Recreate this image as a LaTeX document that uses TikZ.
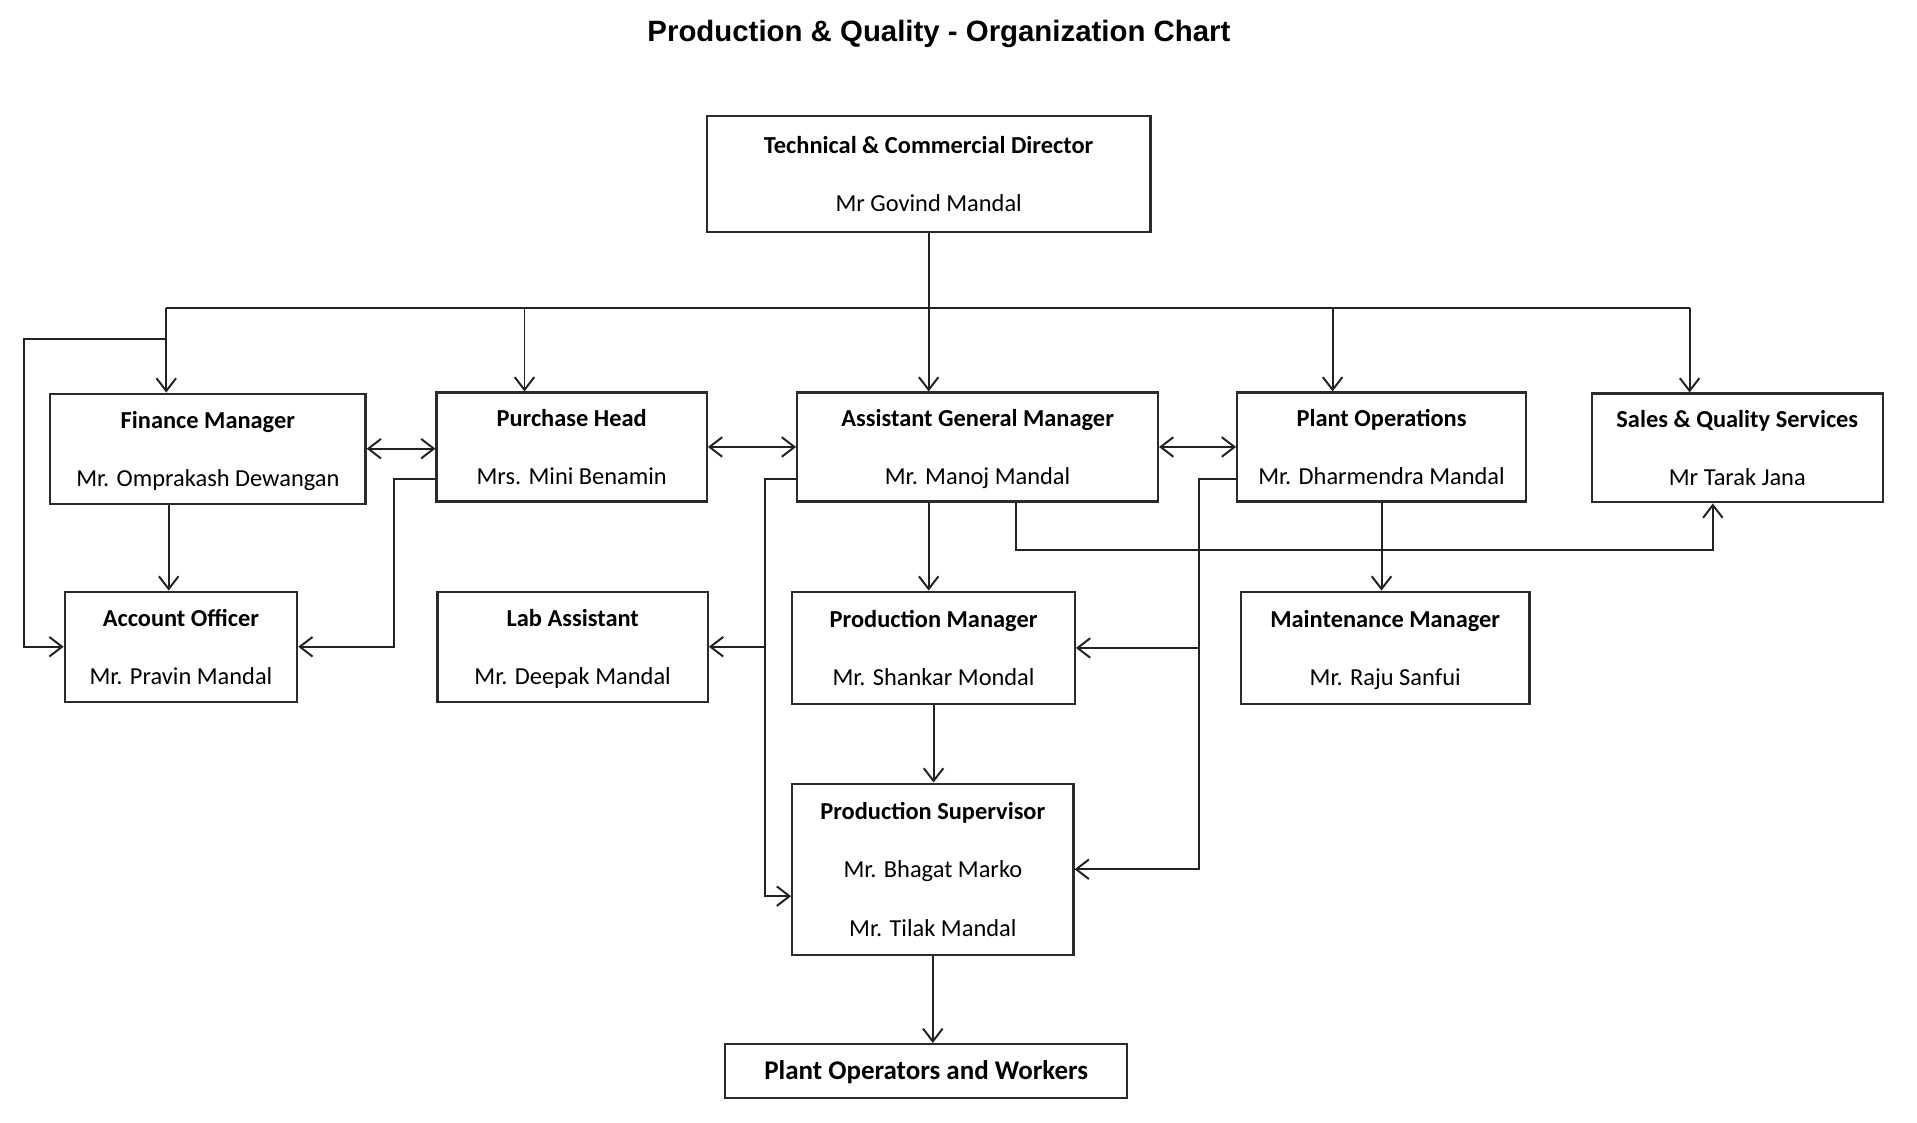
\documentclass[tikz,border=0pt]{standalone}
\usepackage{fontspec}
\setmainfont{Carlito}
\newfontfamily\headfont{Liberation Sans}
\usetikzlibrary{arrows.meta,calc}
\definecolor{boxline}{HTML}{2B2B2B}
\definecolor{linkline}{HTML}{222222}
\newcommand{\tops}{\rule{0pt}{14pt}}
\newcommand{\bots}{\rule[-4pt]{0pt}{4pt}}
\newcommand{\post}[2]{\tops\textbf{#1}\\#2\bots}

\begin{document}
\begin{tikzpicture}[>={Straight Barb[length=2.6mm,width=4mm]},
    card/.style={draw=boxline,line width=1.3pt,rectangle,inner sep=0pt,align=center,
                 font=\fontsize{14.2}{34}\selectfont},
    link/.style={draw=linkline,line width=1.15pt}]
  \useasboundingbox (0,0) rectangle (39.2,-22.95);
  \node[font=\headfont\bfseries\fontsize{17.1}{20}\selectfont] (title) at (19.2,-0.7)
    {Production \& Quality - Organization Chart};

  % boxes
  \node[card,minimum width=9.075cm,minimum height=2.375cm] (tcd) at (18.99,-3.56)
    {\post{Technical \& Commercial Director}{Mr Govind Mandal}};
  \node[card,minimum width=6.45cm,minimum height=2.25cm] (fin) at (4.25,-9.175)
    {\post{Finance Manager}{Mr. Omprakash Dewangan}};
  \node[card,minimum width=5.525cm,minimum height=2.225cm] (pur) at (11.69,-9.14)
    {\post{Purchase Head}{Mrs. Mini Benamin}};
  \node[card,minimum width=7.375cm,minimum height=2.225cm] (agm) at (19.99,-9.14)
    {\post{Assistant General Manager}{Mr. Manoj Mandal}};
  \node[card,minimum width=5.9cm,minimum height=2.225cm] (plt) at (28.25,-9.14)
    {\post{Plant Operations}{Mr. Dharmendra Mandal}};
  \node[card,minimum width=5.95cm,minimum height=2.225cm] (sal) at (35.525,-9.16)
    {\post{Sales \& Quality Services}{Mr Tarak Jana}};
  \node[card,minimum width=4.75cm,minimum height=2.25cm] (acc) at (3.7,-13.225)
    {\post{Account Officer}{Mr. Pravin Mandal}};
  \node[card,minimum width=5.525cm,minimum height=2.25cm] (lab) at (11.71,-13.225)
    {\post{Lab Assistant}{Mr. Deepak Mandal}};
  \node[card,minimum width=5.775cm,minimum height=2.3cm] (pm) at (19.09,-13.25)
    {\post{Production Manager}{Mr. Shankar Mondal}};
  \node[card,minimum width=5.9cm,minimum height=2.3cm] (mnt) at (28.325,-13.25)
    {\post{Maintenance Manager}{Mr. Raju Sanfui}};
  \node[card,minimum width=5.75cm,minimum height=3.5cm] (ps) at (19.075,-17.775)
    {\tops\textbf{Production Supervisor}\\Mr. Bhagat Marko\\Mr. Tilak Mandal\bots};
  \node[card,minimum width=8.225cm,minimum height=1.1cm,font=\fontsize{15.7}{20}\selectfont\bfseries]
    (ops) at (18.94,-21.9) {\tops Plant Operators and Workers\bots};

  % top bus
  \coordinate (busL) at (3.4,-6.3);
  \coordinate (busR) at (34.55,-6.3);
  \draw[link] (busL) -- (busR);
  \draw[link,->] (tcd.south) -- (tcd.south |- agm.north);
  \foreach \x/\n in {3.4/fin,10.725/pur,27.25/plt,34.55/sal}{
    \coordinate (drop\n) at (\x,-6.3);
    \draw[link,->] (drop\n) -- (drop\n |- \n.north);
  }
  \coordinate (loopL) at (0.5,-6.925);
  \draw[link,->] (dropfin |- loopL) -- (loopL) |- (acc.west);

  % peers
  \draw[link,<->] (fin.east) -- (fin.east -| pur.west);
  \draw[link,<->] (pur.east) -- (pur.east -| agm.west);
  \draw[link,<->] (agm.east) -- (agm.east -| plt.west);

  % lanes
  \coordinate (laneP) at (8.05,-9.8);
  \coordinate (laneA) at (15.65,-9.8);
  \coordinate (laneAend) at (15.65,-18.325);
  \coordinate (laneO) at (24.525,-9.8);
  \coordinate (laneS) at (20.775,-11.25);
  \draw[link,->] ([xshift=-8mm]fin.south) -- ([xshift=-8mm]fin.south |- acc.north);
  \draw[link,->] (pur.west |- laneP) -- (laneP) |- (acc.east);
  \draw[link,->] (agm.west |- laneA) -- (laneA) -- (laneAend) -- (laneAend -| ps.west);
  \draw[link,->] (laneA |- lab.east) -- (lab.east);
  \draw[link,->] (tcd.south |- agm.south) -- (tcd.south |- pm.north);
  \draw[link,->] (agm.south -| laneS) -- (laneS) -| ([xshift=-5mm]sal.south);
  \draw[link,->] (plt.west |- laneO) -- (laneO) |- (ps.east);
  \draw[link,->] (laneO |- pm.east) -- (pm.east);
  \draw[link,->] (plt.south) -- (plt.south |- mnt.north);
  \draw[link,->] (pm.south) -- (pm.south |- ps.north);
  \draw[link,->] (ps.south) -- (ps.south |- ops.north);
\end{tikzpicture}
\end{document}
